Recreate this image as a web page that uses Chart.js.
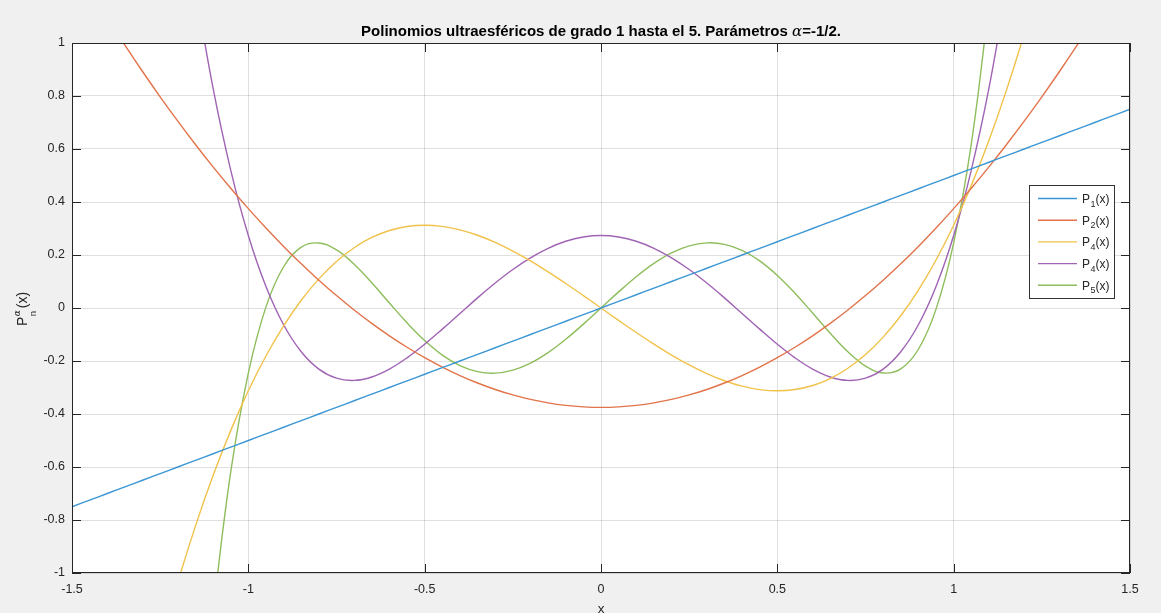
<!DOCTYPE html>
<html>
<head>
<meta charset="utf-8">
<script src="https://cdn.jsdelivr.net/npm/chart.js@4.4.1/dist/chart.umd.min.js"></script>
<style>
  html, body { margin: 0; padding: 0; background: #f0f0f0; overflow: hidden; }
  #myChart { display: block; }
</style>
</head>
<body>
<canvas id="myChart" width="1161" height="613"></canvas>
<script>
// valores, x de -1.5 a 1.5 cada 0.05
const xs = [-1.5, -1.45, -1.4, -1.35, -1.3, -1.25, -1.2, -1.15, -1.1, -1.05,
  -1.0, -0.95, -0.9, -0.85, -0.8, -0.75, -0.7, -0.65, -0.6, -0.55,
  -0.5, -0.45, -0.4, -0.35, -0.3, -0.25, -0.2, -0.15, -0.1, -0.05,
  0, 0.05, 0.1, 0.15, 0.2, 0.25, 0.3, 0.35, 0.4, 0.45,
  0.5, 0.55, 0.6, 0.65, 0.7, 0.75, 0.8, 0.85, 0.9, 0.95,
  1.0, 1.05, 1.1, 1.15, 1.2, 1.25, 1.3, 1.35, 1.4, 1.45, 1.5];

const p1 = [-0.75, -0.725, -0.7, -0.675, -0.65, -0.625, -0.6, -0.575, -0.55, -0.525,
  -0.5, -0.475, -0.45, -0.425, -0.4, -0.375, -0.35, -0.325, -0.3, -0.275,
  -0.25, -0.225, -0.2, -0.175, -0.15, -0.125, -0.1, -0.075, -0.05, -0.025,
  0, 0.025, 0.05, 0.075, 0.1, 0.125, 0.15, 0.175, 0.2, 0.225,
  0.25, 0.275, 0.3, 0.325, 0.35, 0.375, 0.4, 0.425, 0.45, 0.475,
  0.5, 0.525, 0.55, 0.575, 0.6, 0.625, 0.65, 0.675, 0.7, 0.725, 0.75];

const p2 = [1.3125, 1.2019, 1.095, 0.9919, 0.8925, 0.7969, 0.705, 0.6169, 0.5325, 0.4519,
  0.375, 0.3019, 0.2325, 0.1669, 0.105, 0.0469, -0.0075, -0.0581, -0.105, -0.1481,
  -0.1875, -0.2231, -0.255, -0.2831, -0.3075, -0.3281, -0.345, -0.3581, -0.3675, -0.3731,
  -0.375, -0.3731, -0.3675, -0.3581, -0.345, -0.3281, -0.3075, -0.2831, -0.255, -0.2231,
  -0.1875, -0.1481, -0.105, -0.0581, -0.0075, 0.0469, 0.105, 0.1669, 0.2325, 0.3019,
  0.375, 0.4519, 0.5325, 0.6169, 0.705, 0.7969, 0.8925, 0.9919, 1.095, 1.2019, 1.3125];

const p3 = [null, null, null, null, null, -1.2695, -1.035, -0.823, -0.6325, -0.4627,
  -0.3125, -0.1811, -0.0675, 0.0292, 0.11, 0.1758, 0.2275, 0.2661, 0.2925, 0.3077,
  0.3125, 0.308, 0.295, 0.2745, 0.2475, 0.2148, 0.1775, 0.1364, 0.0925, 0.0467,
  0, -0.0467, -0.0925, -0.1364, -0.1775, -0.2148, -0.2475, -0.2745, -0.295, -0.308,
  -0.3125, -0.3077, -0.2925, -0.2661, -0.2275, -0.1758, -0.11, -0.0292, 0.0675, 0.1811,
  0.3125, 0.4627, 0.6325, 0.823, 1.035, 1.2695, null, null, null, null, null];

const p4 = [null, null, null, null, null, null, null, 1.2064, 0.8293, 0.5206,
  0.2734, 0.081, -0.0632, -0.1651, -0.2306, -0.2649, -0.2732, -0.2603, -0.2306, -0.1881,
  -0.1367, -0.0798, -0.0206, 0.0383, 0.0943, 0.1453, 0.1894, 0.2253, 0.2518, 0.268,
  0.2734, 0.268, 0.2518, 0.2253, 0.1894, 0.1453, 0.0943, 0.0383, -0.0206, -0.0798,
  -0.1367, -0.1881, -0.2306, -0.2603, -0.2732, -0.2649, -0.2306, -0.1651, -0.0632, 0.081,
  0.2734, 0.5206, 0.8293, 1.2064, null, null, null, null, null, null, null];

const p5 = [null, null, null, null, null, null, null, null, -1.1439, -0.6197,
  -0.2461, 0.0042, 0.1556, 0.2297, 0.2454, 0.2192, 0.1651, 0.095, 0.0187, -0.056,
  -0.123, -0.1779, -0.2175, -0.2403, -0.2458, -0.2346, -0.208, -0.1683, -0.1182, -0.0609,
  0, 0.0609, 0.1182, 0.1683, 0.208, 0.2346, 0.2458, 0.2403, 0.2175, 0.1779,
  0.123, 0.056, -0.0187, -0.095, -0.1651, -0.2192, -0.2454, -0.2297, -0.1556, -0.0042,
  0.2461, 0.6197, 1.1439, null, null, null, null, null, null, null, null];

const seriesSubs = ['1', '2', '4', '4', '5'];   // asi aparece en la leyenda original
const seriesColors = ['#3A96D4', '#E2734A', '#F1C24A', '#A064B4', '#8EBD5C'];

const FONT = "'Liberation Sans', Arial, Helvetica, sans-serif";
const AXIS_COLOR = '#262626';

const toPoints = (ys) => xs.map((x, i) => ({ x: x, y: ys[i] }));

const datasets = [p1, p2, p3, p4, p5].map((ys, i) => ({
    label: 'P' + seriesSubs[i] + '(x)',
    data: toPoints(ys),
    borderColor: seriesColors[i],
    borderWidth: 1.4,
    pointRadius: 0,
    tension: 0.4,
    spanGaps: false,
    fill: false
}));

// fondo gris, area blanca, caja, marcas hacia dentro, leyenda, titulo y etiqueta y
const matlabLook = {
    id: 'matlabLook',
    beforeDraw(chart) {
        const { ctx, chartArea: a } = chart;
        ctx.save();
        ctx.fillStyle = '#f0f0f0';
        ctx.fillRect(0, 0, chart.width, chart.height);
        ctx.fillStyle = '#ffffff';
        ctx.fillRect(a.left, a.top, a.right - a.left, a.bottom - a.top);
        ctx.restore();
    },
    afterDatasetsDraw(chart) {
        const { ctx, chartArea: a, scales } = chart;
        const sx = scales.x, sy = scales.y;
        ctx.save();
        ctx.strokeStyle = AXIS_COLOR;
        ctx.lineWidth = 1;
        ctx.strokeRect(a.left + 0.5, a.top + 0.5, a.right - a.left - 1, a.bottom - a.top - 1);
        ctx.beginPath();
        sx.ticks.forEach(t => {
            const px = Math.round(sx.getPixelForValue(t.value)) + 0.5;
            ctx.moveTo(px, a.bottom); ctx.lineTo(px, a.bottom - 9);
            ctx.moveTo(px, a.top); ctx.lineTo(px, a.top + 9);
        });
        sy.ticks.forEach(t => {
            const py = Math.round(sy.getPixelForValue(t.value)) + 0.5;
            ctx.moveTo(a.left, py); ctx.lineTo(a.left + 9, py);
            ctx.moveTo(a.right, py); ctx.lineTo(a.right - 9, py);
        });
        ctx.stroke();

        // leyenda
        const lx = 1029.5, ly = 185.5, lw = 85, lh = 113;
        ctx.fillStyle = '#ffffff';
        ctx.fillRect(lx, ly, lw, lh);
        ctx.strokeStyle = '#333333';
        ctx.strokeRect(lx, ly, lw, lh);
        chart.data.datasets.forEach((ds, i) => {
            const yy = 198.5 + i * 21.7;
            ctx.strokeStyle = ds.borderColor;
            ctx.lineWidth = 1.4;
            ctx.beginPath();
            ctx.moveTo(1038, yy); ctx.lineTo(1077, yy);
            ctx.stroke();
            ctx.fillStyle = AXIS_COLOR;
            ctx.textBaseline = 'alphabetic';
            ctx.textAlign = 'left';
            ctx.font = '12px ' + FONT;
            ctx.fillText('P', 1082, yy + 4.5);
            ctx.font = '9px ' + FONT;
            ctx.fillText(seriesSubs[i], 1090.5, yy + 8);
            ctx.font = '12px ' + FONT;
            ctx.fillText('(x)', 1095.5, yy + 4.5);
        });
        ctx.restore();
    },
    afterDraw(chart) {
        const { ctx } = chart;
        ctx.save();
        // titulo
        const bold = 'bold 15px ' + FONT;
        const greek = 'italic 15px "DejaVu Serif", "Liberation Serif", serif';
        const t1 = 'Polinomios ultraesféricos de grado 1 hasta el 5. Parámetros ';
        const t2 = 'α';
        const t3 = '=-1/2.';
        ctx.font = bold; const w1 = ctx.measureText(t1).width, w3 = ctx.measureText(t3).width;
        ctx.font = greek; const w2 = ctx.measureText(t2).width;
        let x0 = 601 - (w1 + w2 + w3) / 2;
        ctx.fillStyle = '#000000';
        ctx.textBaseline = 'alphabetic';
        ctx.textAlign = 'left';
        ctx.font = bold; ctx.fillText(t1, x0, 36);
        ctx.font = greek; ctx.fillText(t2, x0 + w1, 36);
        ctx.font = bold; ctx.fillText(t3, x0 + w1 + w2, 36);

        // etiqueta del eje y: P sub n sup alfa (x)
        ctx.translate(27, 326);
        ctx.rotate(-Math.PI / 2);
        ctx.fillStyle = AXIS_COLOR;
        ctx.font = '14px ' + FONT;
        ctx.fillText('P', 0, 0);
        const pw = ctx.measureText('P').width;
        ctx.font = 'italic 9px "DejaVu Serif", serif';
        ctx.fillText('α', pw + 0.5, -7.5);
        ctx.font = '9.5px ' + FONT;
        ctx.fillText('n', pw + 0.5, 8.5);
        ctx.font = '14px ' + FONT;
        ctx.fillText('(x)', pw + 8.5, 0);
        ctx.restore();
    }
};

Chart.defaults.font.family = FONT;
Chart.defaults.color = AXIS_COLOR;

const fmtTick = (v) => String(Number(v.toFixed(2)));

new Chart(document.getElementById('myChart'), {
    type: 'line',
    data: { datasets: datasets },
    options: {
        responsive: false,
        animation: false,
        devicePixelRatio: 1,
        events: [],
        layout: { padding: { top: 43, right: 31, left: 0, bottom: 0 } },
        plugins: {
            legend: { display: false },
            tooltip: { enabled: false },
            title: { display: false }
        },
        scales: {
            x: {
                type: 'linear',
                min: -1.5,
                max: 1.5,
                ticks: { stepSize: 0.5, padding: 9, font: { size: 12.5 }, color: AXIS_COLOR, maxRotation: 0, callback: fmtTick },
                grid: { color: 'rgba(38,38,38,0.15)', drawTicks: false },
                border: { display: false },
                title: { display: true, text: 'x', font: { size: 13.5 }, color: AXIS_COLOR, padding: { top: 4, bottom: -4 } },
                afterFit: (scale) => { scale.height = 40; }
            },
            y: {
                type: 'linear',
                min: -1,
                max: 1,
                ticks: { stepSize: 0.2, padding: 7, font: { size: 12.5 }, color: AXIS_COLOR, callback: fmtTick },
                grid: { color: 'rgba(38,38,38,0.15)', drawTicks: false },
                border: { display: false },
                afterFit: (scale) => { scale.width = 72; }
            }
        }
    },
    plugins: [matlabLook]
});
</script>
</body>
</html>
